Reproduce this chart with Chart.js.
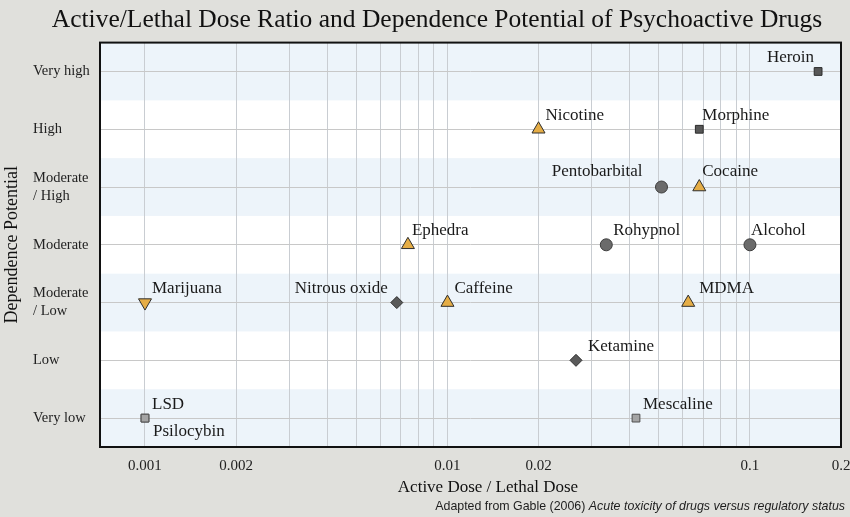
<!DOCTYPE html>
<html>
<head>
<meta charset="utf-8">
<title>Active/Lethal Dose Ratio and Dependence Potential of Psychoactive Drugs</title>
<script src="https://cdn.jsdelivr.net/npm/chart.js@4.4.1/dist/chart.umd.min.js"></script>
<style>
  html, body { margin: 0; padding: 0; background: #e0e0dc; }
  #wrap { width: 850px; height: 517px; }
</style>
</head>
<body>
<div id="wrap"><canvas id="chart" width="850" height="517"></canvas></div>
<script>
// Dependence levels, bottom to top (multi-line tick labels)
const levels = [
  ["Very low"],
  ["Low"],
  ["Moderate", "/ Low"],
  ["Moderate"],
  ["Moderate", "/ High"],
  ["High"],
  ["Very high"],
];

const drugs = [
  "Heroin", "Morphine", "Nicotine", "Pentobarbital", "Cocaine", "Rohypnol",
  "Alcohol", "Ephedra", "Marijuana", "Nitrous oxide", "Caffeine", "MDMA",
  "Ketamine", "LSD", "Psilocybin", "Mescaline",
];
const doseRatio = [
  0.168, 0.068, 0.02, 0.051, 0.068, 0.0335,
  0.1, 0.0074, 0.001, 0.0068, 0.01, 0.0625,
  0.0266, 0.001, 0.001, 0.042,
];
// 1 = Very low ... 7 = Very high
const dependence = [7, 6, 6, 5, 5, 4, 4, 4, 3, 3, 3, 3, 2, 1, 1, 1];
const drugClass = [
  "opioid", "opioid", "stimulant", "depressant", "stimulant", "depressant",
  "depressant", "stimulant", "cannabinoid", "dissociative", "stimulant", "stimulant",
  "dissociative", "hallucinogen", "hallucinogen", "hallucinogen",
];

// log grid lines and the ones that get a label
const xGrid = [
  0.001, 0.002, 0.003, 0.004, 0.005, 0.006, 0.007, 0.008, 0.009,
  0.01, 0.02, 0.03, 0.04, 0.05, 0.06, 0.07, 0.08, 0.09,
  0.1, 0.2,
];
const xLabels = [0.001, 0.002, 0.01, 0.02, 0.1, 0.2];

// marker look per class
const classStyle = {
  opioid:       { pointStyle: "rect", rotation: 0, radius: 5.5, bg: "#575757", border: "#2b2b2b" },
  hallucinogen: { pointStyle: "rect", rotation: 0, radius: 5.5, bg: "#a4a4a4", border: "#4e4e4e" },
  stimulant:    { pointStyle: "triangle", rotation: 0, radius: 7.5, bg: "#e5ad46", border: "#2e2e2e" },
  cannabinoid:  { pointStyle: "triangle", rotation: 180, radius: 7.5, bg: "#e5ad46", border: "#2e2e2e" },
  depressant:   { pointStyle: "circle", rotation: 0, radius: 6, bg: "#6b6b6b", border: "#3e3e3e" },
  dissociative: { pointStyle: "rectRot", rotation: 0, radius: 6, bg: "#5a5a5a", border: "#2e2e2e" },
};

// where each name sits relative to its marker
const defaultLabel = { dx: 7, dy: -14, align: "left" };
const labelOffsets = {
  "Heroin": { dx: -4, dy: -14, align: "right" },
  "Morphine": { dx: 3, dy: -14, align: "left" },
  "Pentobarbital": { dx: -19, dy: -15, align: "right" },
  "Cocaine": { dx: 3, dy: -15, align: "left" },
  "Alcohol": { dx: 1, dy: -14, align: "left" },
  "Ephedra": { dx: 4, dy: -14, align: "left" },
  "Nitrous oxide": { dx: -9, dy: -14, align: "right" },
  "MDMA": { dx: 11, dy: -14, align: "left" },
  "Ketamine": { dx: 12, dy: -14, align: "left" },
  "Psilocybin": { dx: 8, dy: 13, align: "left" },
};

const serif = "'Liberation Serif', 'Times New Roman', serif";

const datasets = Object.keys(classStyle).map((cls) => {
  const st = classStyle[cls];
  const pts = [];
  drugs.forEach((name, i) => {
    if (drugClass[i] === cls) pts.push({ x: doseRatio[i], y: dependence[i], name });
  });
  return {
    label: cls,
    data: pts,
    pointStyle: st.pointStyle,
    rotation: st.rotation,
    pointRadius: st.radius,
    pointHoverRadius: st.radius,
    backgroundColor: st.bg,
    borderColor: st.border,
    borderWidth: 1,
  };
});

// alternating bands + white plot background
const bandsPlugin = {
  id: "bands",
  beforeDraw(chart) {
    const { ctx, chartArea: a, scales: { y } } = chart;
    ctx.save();
    ctx.fillStyle = "#ffffff";
    ctx.fillRect(a.left, a.top, a.right - a.left, a.bottom - a.top);
    ctx.fillStyle = "#edf4fa";
    for (let lvl = 1; lvl <= levels.length; lvl += 2) {
      const top = y.getPixelForValue(lvl + 0.5);
      const bot = y.getPixelForValue(lvl - 0.5);
      ctx.fillRect(a.left, top, a.right - a.left, bot - top);
    }
    ctx.restore();
  },
};

// names next to markers, frame, x title, source note
const labelsPlugin = {
  id: "drugLabels",
  afterDatasetsDraw(chart) {
    const { ctx } = chart;
    ctx.save();
    ctx.font = "17px " + serif;
    ctx.fillStyle = "#1a1a1a";
    ctx.textBaseline = "middle";
    chart.data.datasets.forEach((ds, di) => {
      const meta = chart.getDatasetMeta(di);
      meta.data.forEach((el, i) => {
        const name = ds.data[i].name;
        const o = labelOffsets[name] || defaultLabel;
        ctx.textAlign = o.align;
        ctx.fillText(name, el.x + o.dx, el.y + o.dy);
      });
    });
    ctx.restore();
  },
  afterDraw(chart) {
    const { ctx, chartArea: a } = chart;
    ctx.save();
    ctx.strokeStyle = "#111";
    ctx.lineWidth = 2;
    ctx.strokeRect(a.left, a.top, a.right - a.left, a.bottom - a.top);

    // x axis title (sits a bit right of the plot centre in the original)
    ctx.fillStyle = "#111";
    ctx.font = "17px " + serif;
    ctx.textAlign = "center";
    ctx.textBaseline = "middle";
    ctx.fillText("Active Dose / Lethal Dose", 488, 488);

    // source note, right aligned
    const plain = "Adapted from Gable (2006) ";
    const ital = "Acute toxicity of drugs versus regulatory status";
    const sans = "'Liberation Sans', Arial, sans-serif";
    ctx.textAlign = "left";
    ctx.fillStyle = "#1e1e1e";
    ctx.font = "italic 12.4px " + sans;
    const wi = ctx.measureText(ital).width;
    ctx.font = "12.4px " + sans;
    const wp = ctx.measureText(plain).width;
    const xEnd = 845;
    ctx.fillText(plain, xEnd - wi - wp, 507);
    ctx.font = "italic 12.4px " + sans;
    ctx.fillText(ital, xEnd - wi, 507);
    ctx.restore();
  },
};

new Chart(document.getElementById("chart"), {
  type: "scatter",
  data: { datasets },
  options: {
    responsive: false,
    animation: false,
    layout: { padding: { left: 33, right: 9, top: 0, bottom: 0 } },
    plugins: {
      legend: { display: false },
      tooltip: { enabled: false },
      title: {
        display: true,
        text: "Active/Lethal Dose Ratio and Dependence Potential of Psychoactive Drugs",
        color: "#111",
        font: { family: serif, size: 25.5, weight: "normal" },
        padding: { top: 5, bottom: 7 },
      },
    },
    scales: {
      x: {
        type: "logarithmic",
        min: 0.00071,
        max: 0.2,
        afterBuildTicks: (scale) => {
          scale.ticks = xGrid.map((v) => ({ value: v }));
        },
        afterFit: (scale) => {
          scale.height = 70;
          scale.paddingLeft = 0;
          scale.paddingRight = 0;
        },
        ticks: {
          autoSkip: false,
          maxRotation: 0,
          padding: 10,
          color: "#222",
          font: { family: serif, size: 15 },
          callback: (value) => (xLabels.includes(value) ? String(value) : ""),
        },
        grid: { color: "#c9cdd2", lineWidth: 1, drawTicks: false },
        border: { display: false },
      },
      y: {
        type: "linear",
        min: 0.5,
        max: 7.5,
        afterBuildTicks: (scale) => {
          scale.ticks = levels.map((_, i) => ({ value: i + 1 }));
        },
        afterFit: (scale) => {
          scale.width = 67;
          scale.paddingTop = 0;
          scale.paddingBottom = 0;
        },
        ticks: {
          crossAlign: "far",
          color: "#222",
          font: { family: serif, size: 14.5, lineHeight: 1.25 },
          callback: (value) => levels[value - 1],
        },
        grid: { color: "#c8c8c8", lineWidth: 1, drawTicks: false },
        border: { display: false },
        title: {
          display: true,
          text: "Dependence Potential",
          color: "#111",
          font: { family: serif, size: 18 },
          padding: { top: -32, bottom: 0 },
        },
      },
    },
  },
  plugins: [bandsPlugin, labelsPlugin],
});
</script>
</body>
</html>
